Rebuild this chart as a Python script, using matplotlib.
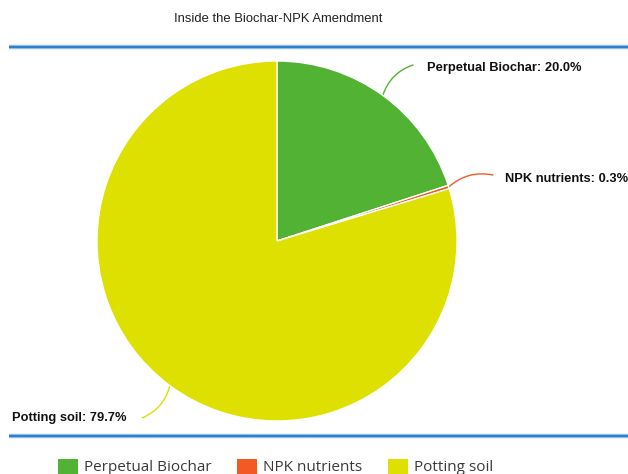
import matplotlib
matplotlib.use("Agg")
import matplotlib.pyplot as plt
from matplotlib.patches import Rectangle, FancyArrowPatch
import numpy as np

# Composition of the amendment
categories = ["Perpetual Biochar", "NPK nutrients", "Potting soil"]
shares = [20.0, 0.3, 79.7]
colors = ["#52b234", "#f15a22", "#dde000"]
title = "Inside the Biochar-NPK Amendment"

W, H = 628, 474
fig = plt.figure(figsize=(W / 100, H / 100), dpi=100)
ax = fig.add_axes([0, 0, 1, 1])
ax.set_xlim(0, W)
ax.set_ylim(H, 0)
ax.axis("off")

# pie drawn in a separate, non-inverted axes so it runs clockwise from 12 o'clock
pax = fig.add_axes([0, 0, 1, 1])
pax.set_xlim(0, W)
pax.set_ylim(0, H)
pax.axis("off")
cx, cy, R = 277, H - 241, 180
wedges, _ = pax.pie(shares, colors=colors, startangle=90, counterclock=False,
                    center=(cx, cy), radius=R,
                    wedgeprops=dict(edgecolor="white", linewidth=1.0))
pax.set_xlim(0, W)
pax.set_ylim(0, H)
pax.set_aspect("auto")

ax.text(278, 19, title, ha="center", va="center", fontsize=9.4,
        family="Liberation Sans", color="#222222")

# horizontal rules framing the chart area
for y in (47, 436):
    ax.plot([9, W], [y, y], color="#9cc6ee", lw=3.2, solid_capstyle="butt")
    ax.plot([9, W], [y, y], color="#2f7fd0", lw=1.6, solid_capstyle="butt")

# data labels with curved connectors
label_pos = {0: (413, 65, 427, 68, "left"),
             1: (493, 175, 505, 179, "left"),
             2: (142, 418, 127, 418, "right")}
cum = 0.0
total = sum(shares)
for i, (name, val) in enumerate(zip(categories, shares)):
    mid = (cum + val / 2) / total * 2 * np.pi
    cum += val
    ex = cx + R * np.sin(mid)
    ey = cy + R * np.cos(mid)
    ex_img, ey_img = ex, H - ey
    lx, ly, tx, ty, ha = label_pos[i]
    arr = FancyArrowPatch((ex_img, ey_img), (lx, ly),
                          connectionstyle="arc3,rad=-0.25",
                          arrowstyle="-", color=colors[i], lw=1.0,
                          shrinkA=0, shrinkB=0)
    ax.add_patch(arr)
    ax.text(tx, ty, f"{name}: {val:.1f}%", ha=ha, va="center",
            fontsize=9.3, fontweight="bold", family="Liberation Sans",
            color="#111111")

# legend row (partly cut by the lower edge)
legend_x = [58, 237, 388]
for x, name, c in zip(legend_x, categories, colors):
    ax.add_patch(Rectangle((x, 459), 20, 20, facecolor=c, edgecolor="none"))
    ax.text(x + 26, 471, name, ha="left", va="baseline", fontsize=11,
            family="Open Sans", color="#3a3a3a")

fig.savefig("out.png", dpi=100)
